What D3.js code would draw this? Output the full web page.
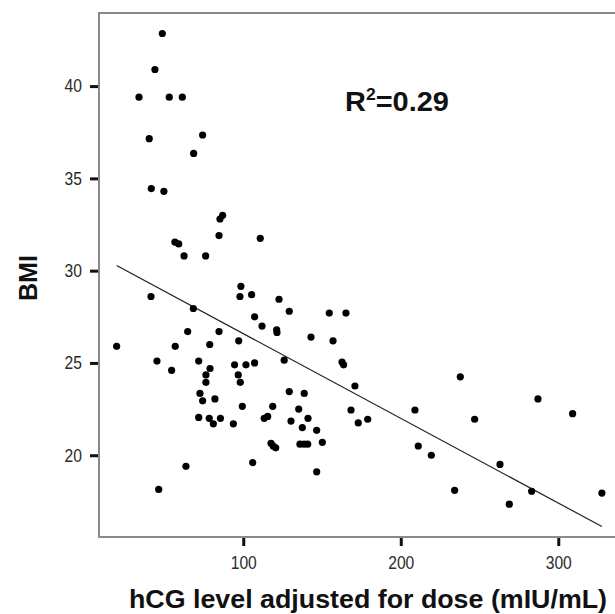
<!DOCTYPE html>
<html><head><meta charset="utf-8">
<script src="https://cdn.jsdelivr.net/npm/d3@7"></script>
<style>html,body{margin:0;padding:0;background:#fff;}</style>
</head><body>
<script>
const hcg = [48.6,43.9,33.8,53.0,61.3,40.3,74.2,68.5,41.6,49.6,86.9,85.2,84.6,110.8,56.6,59.0,62.4,76.1,98.5,41.4,97.9,105.3,122.7,129.2,154.6,165.2,68.3,107.2,111.9,121.2,121.4,143.0,64.7,84.6,19.6,56.8,78.7,97.1,157.0,45.2,71.7,126.0,162.7,163.7,54.5,78.9,94.5,101.7,107.2,76.3,76.3,96.8,98.1,170.9,237.8,72.5,74.2,82.0,99.4,129.2,138.7,118.7,135.2,168.4,209.0,287.1,309.1,71.7,78.4,81.0,85.5,93.7,113.3,115.5,130.3,141.1,173.0,179.0,246.9,137.5,146.6,117.6,119.0,120.6,136.0,138.6,140.9,150.2,211.1,219.4,106.0,63.6,146.6,263.0,46.3,234.2,283.1,268.9,327.7];
const bmi = [42.85,40.9,39.4,39.4,39.4,37.15,37.35,36.35,34.45,34.3,33.0,32.8,31.9,31.75,31.55,31.45,30.8,30.8,29.15,28.6,28.6,28.7,28.45,27.8,27.7,27.7,27.95,27.5,27.0,26.8,26.65,26.4,26.7,26.7,25.9,25.9,26.0,26.2,26.2,25.1,25.1,25.15,25.05,24.9,24.6,24.7,24.9,24.9,25.0,24.35,23.95,24.35,23.95,23.75,24.25,23.35,22.95,23.05,22.65,23.45,23.35,22.65,22.5,22.45,22.45,23.05,22.25,22.05,22.0,21.7,22.0,21.7,22.0,22.1,21.85,22.0,21.75,21.95,21.95,21.5,21.35,20.65,20.5,20.4,20.6,20.6,20.6,20.7,20.5,20.0,19.6,19.4,19.1,19.5,18.15,18.1,18.05,17.35,17.95];
const fitIntercept = 31.18;
const fitSlope = -0.0459;
const xTicks = [100, 200, 300];
const yTicks = [20, 25, 30, 35, 40];
const xLabel = "hCG level adjusted for dose (mIU/mL)";
const yLabel = "BMI";
const r2Text = "0.29";

const W = 615, H = 614;
const mLeft = 99, mTop = 13, mBottom = 537;
const svg = d3.select("body").append("svg").attr("width", W).attr("height", H)
  .style("font-family", "'Liberation Sans', Arial, sans-serif");

const x = d3.scaleLinear().domain([8.4, 340]).range([mLeft, mLeft + (340 - 8.4) * 1.575]);
const y = d3.scaleLinear().domain([15.57, 43.96]).range([mBottom, mTop]);

// frame (left, top, bottom)
svg.append("line").attr("x1", mLeft).attr("x2", W + 5).attr("y1", mTop).attr("y2", mTop)
  .attr("stroke", "#8a8a8a").attr("stroke-width", 2);
svg.append("line").attr("x1", mLeft).attr("x2", mLeft).attr("y1", mTop - 1).attr("y2", mBottom + 1)
  .attr("stroke", "#8a8a8a").attr("stroke-width", 2);
svg.append("line").attr("x1", mLeft).attr("x2", W + 5).attr("y1", mBottom).attr("y2", mBottom)
  .attr("stroke", "#8a8a8a").attr("stroke-width", 2);

// axes
const yAxis = svg.append("g").attr("transform", `translate(${mLeft - 1},0)`)
  .call(d3.axisLeft(y).tickValues(yTicks).tickSize(8).tickPadding(8).tickFormat(d3.format("d")));
const xAxis = svg.append("g").attr("transform", `translate(0,${mBottom + 1})`)
  .call(d3.axisBottom(x).tickValues(xTicks).tickSize(8).tickPadding(10).tickFormat(d3.format("d")));
[yAxis, xAxis].forEach(g => {
  g.select(".domain").remove();
  g.selectAll(".tick line").attr("stroke", "#111").attr("stroke-width", 3);
  g.selectAll(".tick text").attr("fill", "#2a2a2a").attr("font-size", 18)
    .attr("font-family", "'Liberation Sans Narrow','Arial Narrow','Liberation Sans',sans-serif")
    .attr("lengthAdjust", "spacingAndGlyphs")
    .attr("textLength", d => String(d).length * 8.7);
});

// regression line
const xs = d3.extent(hcg);
svg.append("line")
  .attr("x1", x(xs[0])).attr("y1", y(fitIntercept + fitSlope * xs[0]))
  .attr("x2", x(xs[1])).attr("y2", y(fitIntercept + fitSlope * xs[1]))
  .attr("stroke", "#222").attr("stroke-width", 1.2);

// points
svg.append("g").selectAll("circle").data(hcg.map((v, i) => [v, bmi[i]])).join("circle")
  .attr("cx", d => x(d[0])).attr("cy", d => y(d[1])).attr("r", 3.6).attr("fill", "#000");

// R^2 label
const rt = svg.append("text").attr("x", 345).attr("y", 111).attr("font-size", 28)
  .attr("font-weight", "bold").attr("fill", "#111")
  .attr("textLength", 104).attr("lengthAdjust", "spacingAndGlyphs");
rt.append("tspan").text("R");
rt.append("tspan").attr("font-size", 17).attr("dy", -11).text("2");
rt.append("tspan").attr("dy", 11).text("=" + r2Text);

// axis titles
svg.append("text").attr("x", 368).attr("y", 608).attr("text-anchor", "middle")
  .attr("font-size", 26).attr("font-weight", "bold").attr("fill", "#111")
  .attr("textLength", 478).attr("lengthAdjust", "spacingAndGlyphs").text(xLabel);
svg.append("text").attr("transform", "translate(37,278) rotate(-90)").attr("text-anchor", "middle")
  .attr("font-size", 26).attr("font-weight", "bold").attr("fill", "#111")
  .attr("textLength", 46).attr("lengthAdjust", "spacingAndGlyphs").text(yLabel);
</script>
</body></html>
